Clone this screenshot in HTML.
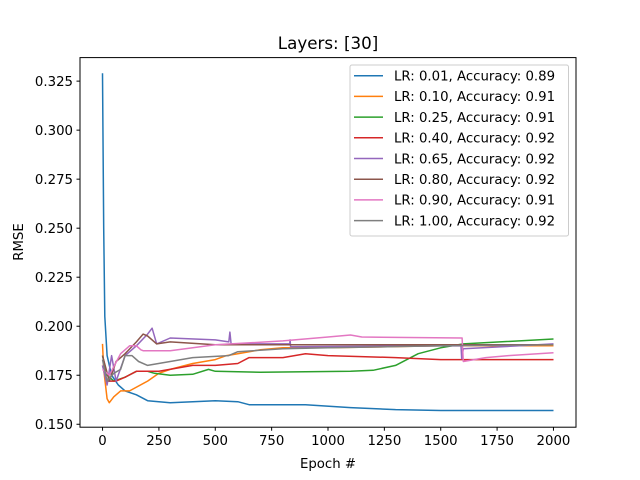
<!DOCTYPE html>
<html><head><meta charset="utf-8"><style>
body{margin:0;background:#fff}
svg{display:block;font-family:"DejaVu Sans","Liberation Sans",sans-serif}
</style></head><body>
<svg id="chart" width="640" height="480" viewBox="0 0 640 480">
<rect width="640" height="480" fill="#fff"/>
<text x="328" y="49" font-size="16.7" text-anchor="middle">Layers: [30]</text>
<g id="plot"></g>
<g id="xticks"></g>
<g id="yticks"></g>
<rect x="80" y="57.6" width="496" height="369.6" fill="none" stroke="#000" stroke-width="1"/>
<text x="328" y="468" font-size="13.3" text-anchor="middle">Epoch #</text>
<text x="23" y="242" font-size="13.3" text-anchor="middle" transform="rotate(-90 23 242)">RMSE</text>
<g id="legend"></g>
</svg>
<script>
const labels=["LR: 0.01, Accuracy: 0.89","LR: 0.10, Accuracy: 0.91","LR: 0.25, Accuracy: 0.91","LR: 0.40, Accuracy: 0.92","LR: 0.65, Accuracy: 0.92","LR: 0.80, Accuracy: 0.92","LR: 0.90, Accuracy: 0.91","LR: 1.00, Accuracy: 0.92"];
const colors=["#1f77b4","#ff7f0e","#2ca02c","#d62728","#9467bd","#8c564b","#e377c2","#7f7f7f"];
const xTicks=[0,250,500,750,1000,1250,1500,1750,2000];
const yTicks=[0.150,0.175,0.200,0.225,0.250,0.275,0.300,0.325];
const sBlue=[[0,0.329],[5,0.25],[10,0.205],[20,0.185],[40,0.175],[70,0.170],[100,0.167],[150,0.165],[200,0.162],[300,0.161],[500,0.162],[600,0.1615],[650,0.160],[900,0.160],[1100,0.1585],[1300,0.1575],[1500,0.157],[1700,0.157],[2000,0.157]];
const sOrange=[[0,0.191],[5,0.178],[20,0.163],[30,0.161],[50,0.164],[80,0.167],[120,0.167],[200,0.172],[250,0.176],[300,0.178],[400,0.181],[500,0.183],[550,0.185],[600,0.186],[700,0.188],[800,0.189],[1000,0.189],[1500,0.190],[2000,0.190]];
const sGreen=[[0,0.185],[20,0.175],[50,0.172],[100,0.174],[150,0.177],[200,0.177],[230,0.176],[300,0.175],[400,0.1755],[470,0.178],[500,0.177],[700,0.1765],[900,0.1768],[1100,0.177],[1200,0.1775],[1300,0.180],[1400,0.186],[1500,0.189],[1600,0.191],[2000,0.1935]];
const sRed=[[0,0.180],[20,0.172],[60,0.172],[100,0.174],[150,0.177],[250,0.177],[400,0.180],[500,0.180],[600,0.181],[650,0.184],[800,0.184],[900,0.186],[1000,0.185],[1300,0.184],[1500,0.183],[2000,0.183]];
const sPurple=[[0,0.180],[20,0.170],[40,0.185],[60,0.172],[100,0.185],[150,0.190],[200,0.196],[220,0.199],[240,0.191],[300,0.194],[500,0.193],[560,0.192],[565,0.197],[570,0.191],[830,0.191],[832,0.193],[834,0.1895],[1590,0.190],[1593,0.1835],[1600,0.1885],[2000,0.191]];
const sBrown=[[0,0.185],[30,0.172],[60,0.182],[100,0.186],[150,0.192],[180,0.196],[200,0.195],[240,0.191],[300,0.192],[500,0.1905],[1000,0.1905],[2000,0.1905]];
const sPink=[[0,0.178],[30,0.175],[80,0.186],[120,0.190],[150,0.190],[170,0.188],[180,0.1875],[300,0.1875],[500,0.1905],[800,0.1925],[1000,0.1945],[1100,0.1955],[1150,0.1945],[1595,0.194],[1600,0.182],[1700,0.184],[1800,0.185],[2000,0.1865]];
const sGray=[[0,0.183],[20,0.172],[50,0.176],[80,0.178],[100,0.185],[130,0.185],[160,0.182],[200,0.180],[300,0.182],[400,0.184],[560,0.185],[600,0.187],[800,0.1885],[1000,0.189],[1500,0.190],[2000,0.1905]];
const series=[sBlue,sOrange,sGreen,sRed,sPurple,sBrown,sPink,sGray];
const NS="http://www.w3.org/2000/svg";
const X=v=>80+(v+100)/2200*496;
const Y=v=>427.2-(v-0.1485)/(0.337-0.1485)*369.6;
function mk(t,a,p){const e=document.createElementNS(NS,t);for(const k in a)e.setAttribute(k,a[k]);p.appendChild(e);return e;}
const plot=document.getElementById('plot');
series.forEach((s,i)=>{
 const p=mk('path',{d:s.map((q,j)=>(j?'L':'M')+X(q[0]).toFixed(1)+' '+Y(q[1]).toFixed(1)).join(''),fill:'none',stroke:colors[i],'stroke-width':1.5,'stroke-linejoin':'round'},plot);
 
 
});
const xg=document.getElementById('xticks');
xTicks.forEach(t=>{
 const l=mk('line',{x1:X(t),x2:X(t),y1:427.2,y2:430.7,stroke:'#000'},xg);
 
 
 const tx=mk('text',{x:X(t),y:445,'font-size':13.3,'text-anchor':'middle'},xg);
 tx.textContent=t;
 
 
});
const yg=document.getElementById('yticks');
yTicks.forEach(t=>{
 const l=mk('line',{x1:76.5,x2:80,y1:Y(t),y2:Y(t),stroke:'#000'},yg);
 
 
 const tx=mk('text',{x:73,y:Y(t)+4.8,'font-size':13.3,'text-anchor':'end'},yg);
 tx.textContent=t.toFixed(3);
 
 
});
const lg=document.getElementById('legend');
const box=mk('rect',{x:350,y:65,width:218.5,height:171,rx:2,fill:'#fff','fill-opacity':0.8,stroke:'#ccc'},lg);


labels.forEach((lab,i)=>{
 const y=75.7+i*20.7;
 const l=mk('line',{x1:354,x2:383,y1:y,y2:y,stroke:colors[i],'stroke-width':1.5},lg);
 
 
 const tx=mk('text',{x:394,y:y+4.8,'font-size':13.3},lg);
 tx.textContent=lab;
 
 
});
</script>
</body></html>
